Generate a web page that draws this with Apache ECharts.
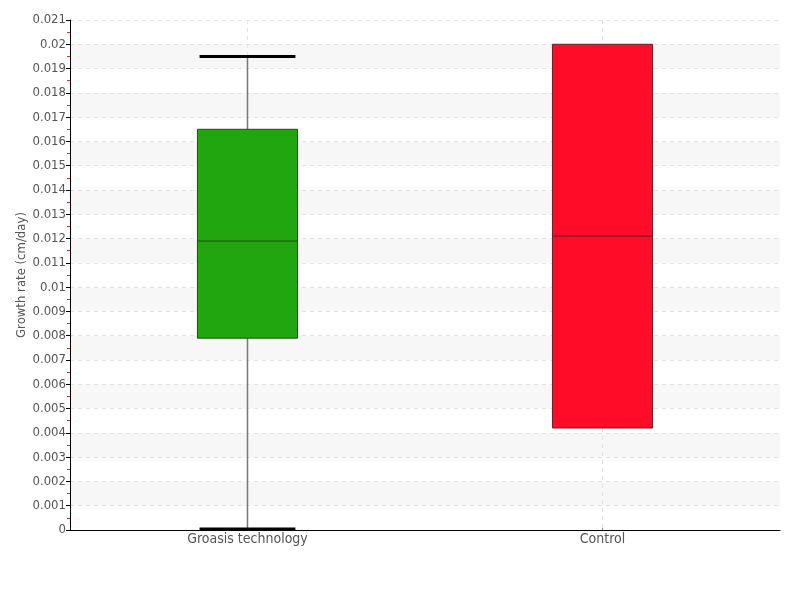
<!DOCTYPE html>
<html><head><meta charset="utf-8">
<script src="https://cdn.jsdelivr.net/npm/echarts@6/dist/echarts.min.js"></script>
<style>html,body{margin:0;padding:0;background:#fff}#c{width:800px;height:600px}</style>
</head><body><div id="c"></div>
<script>
const categories = ['Groasis technology', 'Control'];
// [min, Q1, median, Q3, max]
const groasisStats = [0.00004, 0.0079, 0.0119, 0.0165, 0.0195];
const controlStats = [0.0042, 0.0042, 0.0121, 0.02, 0.02];
const boxColors = ['#22a60f', '#ff0c28'];
const boxBorders = ['#1d4f14', '#6e1b25'];
const yTicks = {min: 0, max: 0.021, interval: 0.001};
const FONT = '"Liberation Sans Narrow", "DejaVu Sans Condensed", sans-serif';

const stats = [groasisStats, controlStats];
const data = stats.map((s, i) => [i].concat(s));

const chart = echarts.init(document.getElementById('c'));
chart.setOption({
  animation: false,
  grid: {left: 70, right: 20, top: 20, bottom: 70, containLabel: false, outerBoundsMode: 'none'},
  xAxis: {
    type: 'category', data: categories,
    axisLine: {lineStyle: {color: '#000', width: 1}},
    axisTick: {show: true, inside: true, alignWithLabel: true, length: 4, lineStyle: {color: '#888'}},
    axisLabel: {color: '#555', fontFamily: FONT, fontSize: 14, margin: 2},
    splitLine: {show: false}
  },
  yAxis: {
    type: 'value', min: yTicks.min, max: yTicks.max, interval: yTicks.interval,
    name: 'Growth rate (cm/day)', nameLocation: 'middle', nameGap: 42, nameMoveOverlap: false,
    nameTextStyle: {color: '#555', fontFamily: FONT, fontSize: 13},
    axisLine: {show: true, lineStyle: {color: '#000', width: 1}},
    axisTick: {show: true, length: 4, lineStyle: {color: '#000'}},
    minorTick: {show: true, splitNumber: 2, length: 3, lineStyle: {color: '#ff2020', width: 1}},
    axisLabel: {color: '#555', fontFamily: FONT, fontSize: 13, margin: 4,
      formatter: v => String(parseFloat(v.toFixed(4)))},
    splitLine: {show: true, lineStyle: {color: '#e2e2e2', type: [4, 4]}},
    splitArea: {show: true, areaStyle: {color: ['#ffffff', '#f7f7f7']}}
  },
  series: [{
    type: 'custom',
    data: data,
    encode: {x: 0, y: [1, 2, 3, 4, 5]},
    renderItem: function (params, api) {
      const idx = api.value(0);
      const mn = api.value(1), q1 = api.value(2), md = api.value(3), q3 = api.value(4), mx = api.value(5);
      const band = api.size([1, 0])[0];
      const half = band * 0.141;
      const capHalf = band * 0.135;
      const pMin = api.coord([idx, mn]);
      const pQ1 = api.coord([idx, q1]);
      const pMd = api.coord([idx, md]);
      const pQ3 = api.coord([idx, q3]);
      const pMax = api.coord([idx, mx]);
      const x = pMd[0];
      const cs = params.coordSys;
      const children = [];
      children.push({type: 'line', shape: {x1: x, y1: cs.y, x2: x, y2: cs.y + cs.height},
        style: {stroke: '#e2e2e2', lineWidth: 1, lineDash: [4, 4]}, z2: 0});
      if (mn < q1) {
        children.push({type: 'line', shape: {x1: x, y1: pMin[1], x2: x, y2: pQ1[1]},
          style: {stroke: '#777', lineWidth: 1.5}, z2: 5});
        children.push({type: 'line', shape: {x1: x - capHalf, y1: pMin[1], x2: x + capHalf, y2: pMin[1]},
          style: {stroke: '#000', lineWidth: 3}, z2: 6});
      }
      if (mx > q3) {
        children.push({type: 'line', shape: {x1: x, y1: pMax[1], x2: x, y2: pQ3[1]},
          style: {stroke: '#777', lineWidth: 1.5}, z2: 5});
        children.push({type: 'line', shape: {x1: x - capHalf, y1: pMax[1], x2: x + capHalf, y2: pMax[1]},
          style: {stroke: '#000', lineWidth: 3}, z2: 6});
      }
      children.push({type: 'rect', shape: {x: x - half, y: pQ3[1], width: half * 2, height: pQ1[1] - pQ3[1]},
        style: {fill: boxColors[idx], stroke: boxBorders[idx], lineWidth: 1}, z2: 7});
      children.push({type: 'line', shape: {x1: x - half, y1: pMd[1], x2: x + half, y2: pMd[1]},
        style: {stroke: boxBorders[idx], lineWidth: 1}, z2: 8});
      return {type: 'group', children: children};
    }
  }]
});
</script></body></html>
